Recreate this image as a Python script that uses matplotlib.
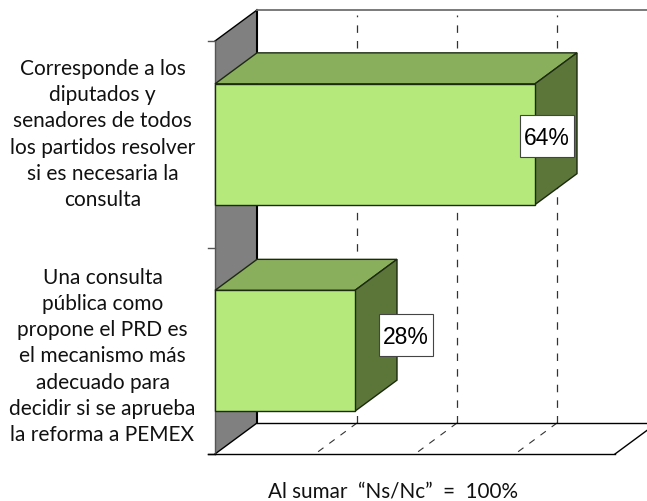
import matplotlib
matplotlib.use("Agg")
import matplotlib.pyplot as plt
from matplotlib.patches import Polygon, Rectangle

categories = [
    "Una consulta\npública como\npropone el PRD es\nel mecanismo más\nadecuado para\ndecidir si se aprueba\nla reforma a PEMEX",
    "Corresponde a los\ndiputados y\nsenadores de todos\nlos partidos resolver\nsi es necesaria la\nconsulta",
]
values = [28, 64]
value_labels = ["28%", "64%"]
grid_values = [20, 40, 60]
footer = "Al sumar  “Ns/Nc”  =  100%"

W, H = 647, 501
PX_X = 5.0
PX_Y = 206.5
DX = 42 / PX_X
DY = 31 / PX_Y
BAR_H = 0.585
XMAX = 80
BACK_EXT = (W - 257) / PX_X

plt.rcParams["font.family"] = ["Lato", "DejaVu Sans"]
fig = plt.figure(figsize=(W / 100, H / 100), dpi=100)
ax = fig.add_axes([0, 0, 1, 1])
ax.set_xlim(-215 / PX_X, (W - 215) / PX_X)
ax.set_ylim((454 - H) / PX_Y, 454 / PX_Y)
ax.axis("off")

# left wall
ax.add_patch(Polygon([(0, 0), (DX, DY), (DX, 2 + DY), (0, 2)], closed=True,
                     fc="#808080", ec="none", zorder=1))
ax.plot([0, DX], [0, DY], color="black", lw=1, zorder=2)
ax.plot([0, DX], [2, 2 + DY], color="black", lw=1, zorder=2)
ax.plot([DX, DX], [DY, 2 + DY], color="black", lw=1.5, zorder=2)
ax.plot([0, 0], [0, 2], color="#555555", lw=1, zorder=2)
for c in [0, 1, 2]:
    ax.plot([-7 / PX_X, 0], [c, c], color="#555555" if c else "black", lw=1, zorder=2)

# top / floor lines
ax.plot([DX, DX + BACK_EXT], [2 + DY, 2 + DY], color="#707070", lw=1.3, zorder=2)
ax.plot([DX, DX + BACK_EXT], [DY, DY], color="black", lw=1, zorder=2)
ax.plot([-7 / PX_X, XMAX], [0, 0], color="black", lw=1, zorder=2)
ax.plot([XMAX, XMAX + DX], [0, DY], color="black", lw=1, zorder=2)

# gridlines
for g in grid_values:
    ax.plot([g + DX, g + DX], [DY, 2 + DY - 5 / PX_Y], color="#333333", lw=0.9,
            dashes=(6, 6.5), zorder=1.5)
    ax.plot([g + DX, g], [DY, 0], color="#333333", lw=0.8, dashes=(6, 6.5), zorder=1.5)

# bars
box_offsets_px = [(51, 16), (11.5, 8)]
for i, (v, lab) in enumerate(zip(values, value_labels)):
    lo = i + 0.5 - BAR_H / 2
    hi = i + 0.5 + BAR_H / 2
    ax.add_patch(Polygon([(0, hi), (DX, hi + DY), (v + DX, hi + DY), (v, hi)], closed=True,
                         fc="#8AAF5C", ec="#1c2a10", lw=1, zorder=3))
    ax.add_patch(Polygon([(v, lo), (v + DX, lo + DY), (v + DX, hi + DY), (v, hi)], closed=True,
                         fc="#5C763A", ec="#1c2a10", lw=1, zorder=3))
    ax.add_patch(Polygon([(0, lo), (v, lo), (v, hi), (0, hi)], closed=True,
                         fc="#B5E97B", ec="#1c2a10", lw=1, zorder=4))
    ox, oy = box_offsets_px[i]
    cx = v + ox / PX_X
    cy = i + 0.5 + oy / PX_Y
    bw, bh = 54 / PX_X, 41.5 / PX_Y
    ax.add_patch(Rectangle((cx - bw / 2, cy - bh / 2), bw, bh, fc="white", ec="#444444",
                           lw=0.8, zorder=5))
    ax.text(cx, cy, lab, ha="center", va="center_baseline", fontsize=16.5,
            family=["Liberation Sans"], color="black", zorder=6)

# category labels
for i, c in enumerate(categories):
    ypos = {0: 356.5, 1: 134.5}[i]
    ax.text(-112.5 / PX_X, (454 - ypos) / PX_Y, c, ha="center", va="center",
            fontsize=15, color="#111111", linespacing=1.38, zorder=5)

ax.text((392.5 - 215) / PX_X, (454 - 492) / PX_Y, footer, ha="center", va="center",
        fontsize=14.9, color="#111111")

fig.savefig("out.png", dpi=100)
